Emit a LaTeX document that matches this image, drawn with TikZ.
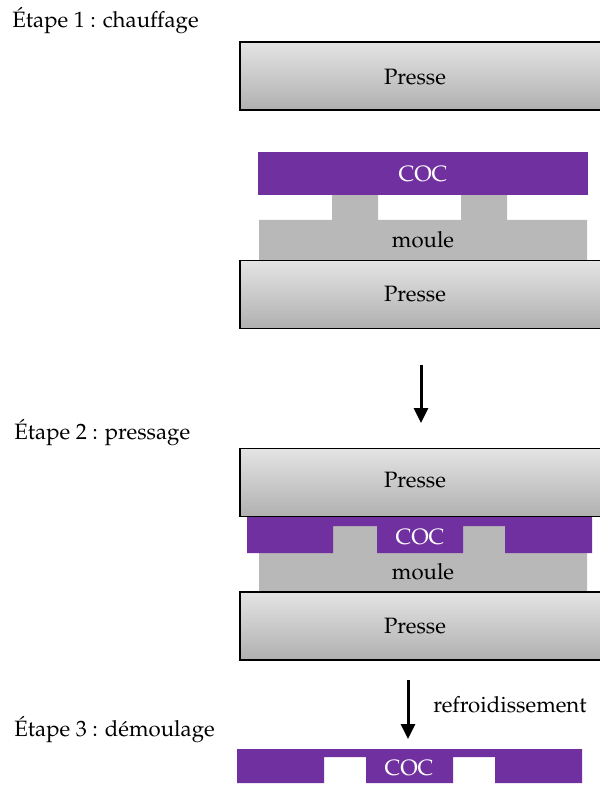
\documentclass[tikz,border=0pt]{standalone}
\usepackage[T1]{fontenc}
\usepackage{mathpazo}
\usetikzlibrary{arrows.meta}
\definecolor{cocviolet}{RGB}{112,48,160}
\definecolor{moulegris}{RGB}{184,184,184}
\definecolor{presshaut}{RGB}{228,228,228}
\definecolor{pressbas}{RGB}{176,176,176}
\tikzset{
  every node/.style={font=\fontsize{11.1}{13}\selectfont},
  presse/.style={rectangle,draw=black,line width=0.85pt,top color=presshaut,bottom color=pressbas,minimum width=181pt,minimum height=34pt,inner sep=0pt},
  coc/.style={fill=cocviolet,draw=none},
  moule/.style={fill=moulegris,draw=none},
  etape/.style={anchor=west,inner sep=0pt},
  fleche/.style={line width=1.5pt,-{Triangle[length=7.5pt,width=7pt]}}
}
\begin{document}
\begin{tikzpicture}[x=0.5pt,y=-0.5pt]
    \useasboundingbox (0,0) rectangle (599,785);

    % etape 1
    \node[etape] (e1) at (12,20) {\'Etape 1 : chauffage};
    \node[presse] (pr1h) at (421,76) {};
    \node at (pr1h.center) [xshift=-3pt,yshift=-0.5pt] {Presse};
    \fill[moule] (259,260) -- (259,220) -- (332,220) -- (332,195) -- (378,195) -- (378,220)
        -- (461,220) -- (461,195) -- (507,195) -- (507,220) -- (587,220) -- (587,260) -- cycle;
    \fill[coc] (258,152) rectangle (588,195);
    \node[text=white] (coc1) at (423,174) {COC};
    \node (m1) at (423,240) {moule};
    \node[presse] (pr1b) at (421,294.5) {};
    \node at (pr1b.center) [xshift=-3pt] {Presse};

    \coordinate (a1) at (421,365);
    \coordinate (b1) at (421,423);
    \draw[fleche] (a1) -- (b1);

    % etape 2
    \node[etape] (e2) at (14,432) {\'Etape 2 : pressage};
    \fill[moule] (259,592) -- (259,553) -- (333,553) -- (333,526) -- (377,526) -- (377,553)
        -- (463,553) -- (463,526) -- (505,526) -- (505,553) -- (587,553) -- (587,592) -- cycle;
    \fill[coc] (247,517) -- (592,517) -- (592,553) -- (505,553) -- (505,526) -- (463,526)
        -- (463,553) -- (377,553) -- (377,526) -- (333,526) -- (333,553) -- (247,553) -- cycle;
    \node[text=white] (coc2) at (420,537) {COC};
    \node (m2) at (423,572) {moule};
    \node[presse] (pr2h) at (421,482.5) {};
    \node at (pr2h.center) [xshift=-3pt,yshift=1pt] {Presse};
    \node[presse] (pr2b) at (421,626) {};
    \node at (pr2b.center) [xshift=-3pt] {Presse};

    \coordinate (a2) at (408,680);
    \coordinate (b2) at (408,739);
    \draw[fleche] (a2) -- (b2);
    \node[anchor=west,inner sep=0pt] (refr) at (433,705) {refroidissement};

    % etape 3
    \node[etape] (e3) at (14,729) {\'Etape 3 : d\'emoulage};
    \fill[coc] (237,749) -- (582,749) -- (582,783) -- (495,783) -- (495,757) -- (453,757)
        -- (453,783) -- (366,783) -- (366,757) -- (324,757) -- (324,783) -- (237,783) -- cycle;
    \node[text=white] (coc3) at (409,768) {COC};
\end{tikzpicture}
\end{document}
